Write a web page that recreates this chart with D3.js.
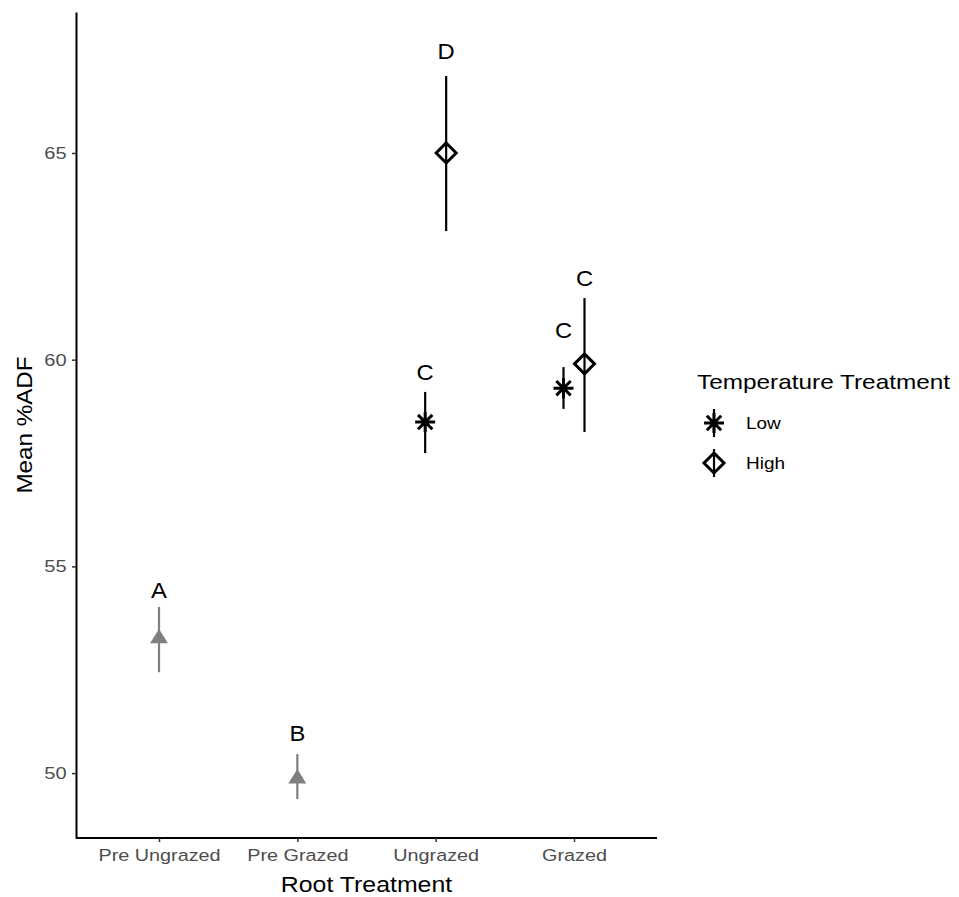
<!DOCTYPE html>
<html>
<head>
<meta charset="utf-8">
<script src="https://cdn.jsdelivr.net/npm/d3@7"></script>
<style>
  body { margin: 0; background: #fff; }
  svg text { font-family: "Liberation Sans", Arial, sans-serif; }
</style>
</head>
<body>
<div id="chart"></div>
<script>
// data
const categories = ['Pre Ungrazed', 'Pre Grazed', 'Ungrazed', 'Grazed'];
const pointCategory = ['Pre Ungrazed', 'Pre Grazed', 'Ungrazed', 'Ungrazed', 'Grazed', 'Grazed'];
const pointGroup = ['Pre', 'Pre', 'Low', 'High', 'Low', 'High'];
const meanADF = [53.27, 49.88, 58.49, 65.0, 59.31, 59.90];
const lowerADF = [52.44, 49.37, 57.74, 63.11, 58.81, 58.25];
const upperADF = [54.02, 50.46, 59.22, 66.86, 59.82, 61.49];
const letters = ['A', 'B', 'C', 'D', 'C', 'C'];
const letterADF = [54.43, 50.97, 59.70, 67.47, 60.72, 61.98];
const yTicks = [50, 55, 60, 65];
const legendGroups = ['Low', 'High'];

const width = 959, height = 897;
const margin = { top: 12, right: 302, bottom: 59, left: 76 };

const svg = d3.select('#chart')
    .append('svg')
    .attr('width', width)
    .attr('height', height);

// the original text is a bit wider than Liberation Sans, stretch it sideways
function stretch(sel, k) {
    sel.each(function () {
        const t = d3.select(this);
        const x = +t.attr('x') || 0, y = +t.attr('y') || 0;
        const prev = t.attr('transform') || '';
        t.attr('transform', `${prev} translate(${x},${y}) scale(${k},1) translate(${-x},${-y})`);
    });
}

// scales
const xScale = d3.scalePoint()
    .domain(categories)
    .range([margin.left, width - margin.right])
    .padding(0.6);
const dodge = d3.scalePoint()
    .domain(['Low', 'High'])
    .range([-10.5, 10.5]);
const yScale = d3.scaleLinear()
    .domain([48.43, 68.41])
    .range([height - margin.bottom, margin.top]);

const xPos = (i) => xScale(pointCategory[i]) + (pointGroup[i] === 'Pre' ? 0 : dodge(pointGroup[i]));
const colorOf = (g) => g === 'Pre' ? '#7f7f7f' : '#000000';

// axes
const yAxis = svg.append('g')
    .attr('transform', `translate(${margin.left},0)`)
    .call(d3.axisLeft(yScale).tickValues(yTicks).tickSize(4).tickPadding(4).tickSizeOuter(0));
yAxis.select('.domain').attr('stroke', '#000').attr('stroke-width', 2);
yAxis.selectAll('.tick line').attr('stroke', '#333').attr('stroke-width', 1.5);
yAxis.selectAll('.tick text').attr('fill', '#4d4d4d').attr('font-size', 17);
yAxis.selectAll('.tick text').attr('transform', 'scale(1.18,1)');

const xAxis = svg.append('g')
    .attr('transform', `translate(0,${height - margin.bottom})`)
    .call(d3.axisBottom(xScale).tickSize(4).tickPadding(7).tickSizeOuter(0));
xAxis.select('.domain').attr('stroke', '#000').attr('stroke-width', 2)
    .attr('d', `M${margin.left},0H${width - margin.right}`);
xAxis.selectAll('.tick line').attr('stroke', '#333').attr('stroke-width', 1.5);
xAxis.selectAll('.tick text').attr('fill', '#4d4d4d').attr('font-size', 16.5)
    .attr('transform', 'scale(1.2,1)');

// axis titles
svg.append('text')
    .attr('x', (margin.left + width - margin.right) / 2)
    .attr('y', 892)
    .attr('text-anchor', 'middle')
    .attr('font-size', 22)
    .text('Root Treatment')
    .call(stretch, 1.13);
svg.append('text')
    .attr('transform', `translate(32,${(margin.top + height - margin.bottom) / 2}) rotate(-90)`)
    .attr('text-anchor', 'middle')
    .attr('font-size', 22)
    .text('Mean %ADF')
    .call(stretch, 1.1);

// markers
function drawShape(g, group, x, y) {
    if (group === 'Pre') {
        const s = 9;
        g.append('path')
            .attr('d', `M${x},${y - s}L${x + s},${y + s * 0.6}L${x - s},${y + s * 0.6}Z`)
            .attr('fill', '#7f7f7f');
    } else if (group === 'Low') {
        const r = 10;
        const p = d3.path();
        p.moveTo(x - r, y); p.lineTo(x + r, y);
        p.moveTo(x, y - r); p.lineTo(x, y + r);
        const d = r * 0.72;
        p.moveTo(x - d, y - d); p.lineTo(x + d, y + d);
        p.moveTo(x - d, y + d); p.lineTo(x + d, y - d);
        g.append('path').attr('d', p.toString())
            .attr('stroke', '#000').attr('stroke-width', 3).attr('fill', 'none');
    } else {
        const r = 10;
        g.append('path')
            .attr('d', `M${x},${y - r}L${x + r},${y}L${x},${y + r}L${x - r},${y}Z`)
            .attr('stroke', '#000').attr('stroke-width', 3).attr('fill', 'none');
    }
}

const marks = svg.append('g');
meanADF.forEach((m, i) => {
    const x = xPos(i);
    marks.append('line')
        .attr('x1', x).attr('x2', x)
        .attr('y1', yScale(lowerADF[i]))
        .attr('y2', yScale(upperADF[i]))
        .attr('stroke', colorOf(pointGroup[i]))
        .attr('stroke-width', 2.2);
    drawShape(marks, pointGroup[i], x, yScale(m));
    marks.append('text')
        .attr('x', x)
        .attr('y', yScale(letterADF[i]))
        .attr('dy', '0.35em')
        .attr('text-anchor', 'middle')
        .attr('font-size', 22)
        .text(letters[i])
        .call(stretch, 1.08);
});

// legend
const legend = svg.append('g');
legend.append('text')
    .attr('x', 697).attr('y', 389)
    .attr('font-size', 21)
    .text('Temperature Treatment')
    .call(stretch, 1.16);
legendGroups.forEach((grp, i) => {
    const ky = 423 + i * 40;
    const kx = 714;
    legend.append('line')
        .attr('x1', kx).attr('x2', kx)
        .attr('y1', ky - 14).attr('y2', ky + 14)
        .attr('stroke', '#000').attr('stroke-width', 2.2);
    drawShape(legend, grp, kx, ky);
    legend.append('text')
        .attr('x', 746).attr('y', ky)
        .attr('dy', '0.35em')
        .attr('font-size', 16.5)
        .attr('fill', '#000')
        .text(grp)
        .call(stretch, 1.15);
});
</script>
</body>
</html>
